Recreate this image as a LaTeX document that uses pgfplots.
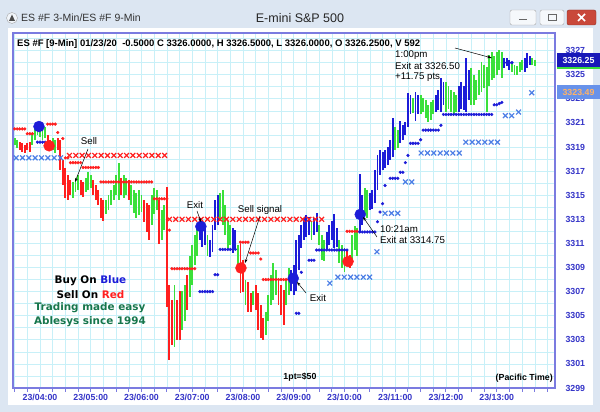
\documentclass[border=0pt]{standalone}
\usepackage{pgfplots}
\pgfplotsset{compat=1.18}
\usepackage{pgfplotstable}
\usepackage{fontspec}
\setmainfont{Liberation Sans}
\newfontfamily\dejavu{DejaVu Sans}
\usetikzlibrary{arrows.meta}

\definecolor{chrome}{HTML}{DCE6F2}
\definecolor{frameblue}{HTML}{7B7BE0}
\definecolor{gridcyan}{HTML}{C8F0F8}
\definecolor{ticklab}{HTML}{3535C8}
\definecolor{barred}{HTML}{FF1F1F}
\definecolor{bargreen}{HTML}{3AE03A}
\definecolor{barblue}{HTML}{1C1CD8}
\definecolor{xblue}{HTML}{4D7FE6}
\definecolor{closered}{HTML}{C9483A}
\definecolor{txtgreen}{HTML}{16764C}

% 3-min bars: time (hours, Pacific), low, high
\pgfplotstableread{
t lo hi
3.60 3318.75 3319.4
3.65 3318.6 3319.3
3.70 3318.5 3319.2
3.75 3318.75 3319.3
3.80 3318.6 3319.4
4.15 3318.9 3320.0
4.20 3318.75 3319.6
4.35 3318.75 3319.75
4.40 3317.1 3319.6
4.45 3315.85 3317.9
4.50 3314.8 3317.3
4.55 3314.6 3316.7
4.60 3315.0 3316.3
4.80 3315.0 3316.3
4.85 3314.85 3316.1
5.05 3315.0 3316.3
5.10 3314.6 3315.85
5.15 3314.2 3315.4
5.20 3313.1 3314.8
5.25 3312.9 3314.6
5.60 3315.0 3316.4
5.75 3314.6 3316.3
6.05 3312.8 3314.6
6.10 3311.95 3314.35
6.15 3311.3 3314.2
6.35 3311.0 3314.6
6.50 3305.7 3315.7
6.55 3301.3 3307.55
6.60 3302.6 3306.3
6.70 3303.0 3306.3
6.75 3303.0 3307.1
6.90 3305.5 3308.4
7.95 3306.9 3311.0
8.00 3307.0 3309.6
8.10 3305.3 3307.8
8.15 3305.3 3306.9
8.25 3305.5 3307.55
8.30 3303.8 3306.9
8.35 3303.15 3305.9
8.40 3303.0 3304.8
8.70 3305.9 3308.0
8.75 3305.1 3307.55
8.80 3304.2 3307.1
10.05 3309.1 3310.45
10.10 3308.96 3310.0
}\redbars

\pgfplotstableread{
t lo hi
7.15 3311.3 3313.1
7.20 3310.7 3312.9
7.25 3310.9 3312.5
7.35 3309.9 3311.3
7.40 3310.3 3312.5
7.45 3312.1 3314.6
7.50 3312.5 3315.0
7.80 3310.2 3312.3
7.85 3310.45 3312.1
8.95 3307.1 3308.8
9.00 3306.7 3309.2
9.05 3307.1 3311.3
9.10 3308.8 3311.7
9.15 3310.6 3312.5
9.20 3311.3 3313.1
9.25 3311.5 3313.4
9.30 3311.7 3313.2
9.40 3311.7 3313.1
9.45 3311.95 3313.5
9.65 3310.45 3311.95
9.70 3310.9 3312.5
9.75 3311.3 3312.9
9.80 3310.6 3313.4
9.85 3310.7 3312.3
10.30 3311.9 3316.8
10.35 3312.5 3315.0
10.50 3313.8 3315.2
10.55 3313.9 3315.4
10.60 3314.35 3317.1
10.65 3315.4 3318.3
10.70 3316.7 3318.75
10.75 3317.1 3318.6
10.80 3317.3 3318.75
10.85 3317.5 3319.0
10.90 3317.9 3319.6
10.95 3318.2 3321.4
11.10 3319.3 3321.2
11.15 3319.6 3320.8
11.20 3320.0 3321.1
11.25 3320.7 3323.5
11.30 3321.7 3323.3
11.40 3321.2 3323.6
11.45 3321.7 3323.3
11.80 3321.9 3323.3
11.85 3322.1 3323.7
11.90 3321.9 3324.7
11.95 3322.5 3324.4
12.25 3321.9 3324.1
12.30 3322.2 3324.4
12.35 3322.1 3324.1
12.40 3321.9 3326.4
12.45 3322.9 3325.4
13.15 3325.6 3326.4
13.20 3325.7 3326.4
13.25 3325.4 3326.2
13.55 3325.2 3326.4
13.60 3325.6 3326.8
13.65 3325.8 3326.6
}\bluebars

\pgfplotstableread{
t lo hi
3.50 3319.2 3319.75
3.55 3318.9 3319.6
3.85 3319.2 3320.2
3.90 3319.6 3320.6
3.95 3320.0 3320.8
4.00 3319.8 3320.7
4.05 3319.6 3320.4
4.10 3319.75 3320.7
4.25 3318.75 3319.75
4.30 3318.5 3319.6
4.65 3314.8 3316.1
4.70 3315.3 3316.4
4.75 3315.4 3316.7
4.90 3315.3 3316.4
4.95 3315.4 3316.9
5.00 3315.6 3316.7
5.30 3313.4 3314.6
5.35 3313.8 3315.0
5.40 3314.2 3315.4
5.45 3314.6 3315.85
5.50 3315.0 3316.7
5.55 3314.6 3317.7
5.65 3314.8 3316.7
5.70 3315.0 3316.4
5.80 3314.2 3315.85
5.85 3313.5 3315.4
5.90 3313.1 3315.2
5.95 3313.4 3315.4
6.00 3313.6 3315.0
6.20 3312.5 3315.0
6.25 3313.4 3315.6
6.30 3313.8 3315.4
6.40 3311.3 3313.8
6.45 3312.1 3314.2
6.65 3302.4 3307.55
6.80 3303.8 3307.1
6.85 3304.6 3307.55
6.95 3306.55 3310.0
7.00 3307.55 3310.9
7.05 3309.2 3311.7
7.10 3310.0 3312.3
7.30 3310.0 3311.7
7.55 3312.9 3315.2
7.60 3312.5 3315.4
7.65 3311.7 3314.2
7.70 3310.45 3312.9
7.75 3310.9 3312.5
7.90 3308.6 3310.9
8.05 3305.9 3308.0
8.20 3305.9 3307.1
8.45 3303.4 3305.3
8.50 3304.6 3306.7
8.55 3305.9 3308.4
8.60 3306.3 3309.4
8.65 3306.7 3308.8
8.85 3305.9 3308.0
8.90 3306.7 3308.96
9.35 3311.3 3312.9
9.50 3310.9 3312.5
9.55 3309.6 3311.7
9.60 3309.5 3311.3
9.90 3309.4 3311.3
9.95 3308.96 3310.9
10.00 3308.6 3310.6
10.15 3309.5 3311.7
10.20 3310.45 3312.5
10.25 3310.0 3312.3
10.40 3313.4 3315.6
10.45 3313.1 3315.4
11.00 3318.75 3320.7
11.05 3318.9 3320.4
11.35 3321.8 3323.1
11.50 3321.7 3323.3
11.55 3321.9 3323.1
11.60 3321.4 3322.9
11.65 3321.1 3322.5
11.70 3321.2 3322.7
11.75 3321.7 3322.9
12.00 3321.9 3324.4
12.05 3322.2 3324.1
12.10 3321.9 3323.7
12.15 3321.7 3323.6
12.20 3321.9 3323.3
12.50 3322.5 3325.6
12.55 3322.5 3325.0
12.60 3322.9 3324.6
12.65 3323.3 3325.4
12.70 3323.6 3326.05
12.75 3323.9 3325.8
12.80 3321.9 3325.6
12.85 3324.1 3326.6
12.90 3324.6 3326.9
12.95 3324.7 3326.6
13.00 3325.0 3326.9
13.05 3325.4 3327.05
13.10 3324.7 3326.9
13.30 3325.2 3326.0
13.35 3325.0 3325.8
13.40 3325.0 3325.7
13.45 3325.2 3326.05
13.50 3325.4 3326.2
13.70 3325.8 3326.4
13.75 3325.7 3326.2
}\greenbars

% stop dots
\pgfplotstableread{
t p
3.50 3320.5
3.55 3320.5
3.60 3320.5
3.65 3320.5
3.70 3320.5
3.75 3320.1
3.80 3320.1
3.85 3320.1
4.15 3320.9
4.20 3320.9
4.25 3320.9
4.30 3320.9
4.35 3320.2
4.45 3319.7
4.50 3318.1
4.55 3318.1
4.60 3317.7
4.65 3317.7
4.70 3317.7
4.75 3317.7
4.80 3317.7
4.85 3317.3
4.90 3317.3
4.95 3317.3
5.00 3317.3
5.05 3317.3
5.10 3317.3
5.15 3317.3
5.20 3316.1
5.25 3316.1
5.30 3316.1
5.35 3316.1
5.40 3316.1
5.45 3316.1
5.50 3316.1
5.55 3316.1
5.60 3316.1
5.65 3316.1
5.70 3316.1
5.75 3316.1
5.80 3316.1
5.85 3316.1
5.90 3316.1
5.95 3316.1
6.00 3316.1
6.05 3316.1
6.10 3316.1
6.15 3316.1
6.20 3316.1
6.25 3314.7
6.30 3314.7
6.35 3314.7
6.40 3314.7
6.45 3314.7
6.50 3314.7
6.55 3312.1
6.60 3308.9
6.65 3308.9
6.70 3308.9
6.75 3308.9
6.80 3308.9
6.85 3308.9
6.90 3308.9
6.95 3308.9
7.00 3308.9
7.05 3308.9
7.95 3311.1
8.00 3311.1
8.05 3311.1
8.10 3311.1
8.15 3310.2
8.20 3310.2
8.25 3310.2
8.30 3310.2
8.35 3309.7
8.40 3308.0
8.45 3308.0
8.50 3308.0
8.55 3308.0
8.60 3308.0
8.65 3308.0
8.70 3308.0
8.75 3308.0
8.80 3308.0
8.85 3308.0
8.90 3308.0
8.95 3308.0
9.00 3308.0
10.05 3312.0
10.10 3312.0
10.15 3312.0
10.20 3312.0
10.25 3312.0
}\reddots

\pgfplotstableread{
t p
3.95 3319.4
4.00 3319.4
4.05 3319.4
4.10 3319.4
7.15 3307.0
7.20 3307.0
7.25 3307.0
7.30 3307.0
7.35 3307.0
7.40 3307.0
7.45 3308.4
7.50 3308.4
7.55 3310.5
7.60 3310.5
7.65 3310.5
7.70 3310.5
7.75 3310.5
7.80 3310.5
7.85 3310.5
9.05 3305.2
9.10 3305.2
9.15 3308.6
9.30 3309.6
9.35 3309.6
9.40 3309.6
9.45 3310.45
9.50 3310.45
9.55 3310.45
9.60 3310.45
9.65 3310.45
9.70 3310.45
9.75 3310.45
9.80 3310.45
9.85 3310.45
9.90 3310.45
9.95 3310.45
10.00 3310.45
10.05 3310.45
10.30 3311.95
10.35 3311.95
10.40 3311.95
10.45 3311.95
10.50 3311.95
10.55 3311.95
10.60 3311.95
10.65 3312.8
10.70 3313.6
10.75 3314.3
10.80 3315.8
10.90 3316.4
10.95 3316.4
11.00 3316.4
11.05 3316.4
11.10 3316.9
11.15 3316.9
11.20 3317.7
11.25 3318.3
11.30 3319.3
11.35 3319.3
11.40 3319.3
11.45 3319.3
11.50 3319.6
11.55 3320.4
11.60 3320.4
11.65 3320.4
11.70 3320.4
11.75 3320.4
11.80 3320.4
11.85 3320.4
11.90 3320.8
11.95 3321.7
12.00 3321.7
12.05 3321.7
12.10 3321.7
12.15 3321.7
12.20 3321.7
12.25 3321.7
12.30 3321.7
12.35 3321.7
12.40 3321.7
12.45 3321.7
12.50 3321.7
12.55 3321.7
12.60 3321.7
12.65 3321.7
12.70 3321.7
12.75 3321.7
12.80 3321.7
12.85 3321.7
12.90 3321.7
12.95 3322.5
13.00 3322.5
13.05 3322.6
13.10 3322.7
13.15 3326.0
13.20 3326.0
13.25 3326.0
13.30 3326.0
}\bluedots

% stop crosses
\pgfplotstableread{
t p
4.58 3318.3
4.705 3318.3
4.83 3318.3
4.955 3318.3
5.08 3318.3
5.205 3318.3
5.33 3318.3
5.455 3318.3
5.58 3318.3
5.705 3318.3
5.83 3318.3
5.955 3318.3
6.08 3318.3
6.205 3318.3
6.33 3318.3
6.455 3318.3
6.55 3313.0
6.675 3313.0
6.80 3313.0
6.925 3313.0
7.05 3313.0
7.175 3313.0
7.30 3313.0
7.425 3313.0
7.55 3313.0
7.675 3313.0
7.80 3313.0
7.925 3313.0
8.05 3313.0
8.175 3313.0
8.30 3313.0
8.425 3313.0
8.55 3313.0
8.675 3313.0
8.80 3313.0
8.925 3313.0
9.05 3313.0
9.175 3313.0
9.30 3313.0
9.425 3313.0
9.55 3313.0
}\redx

\pgfplotstableread{
t p
3.53 3318.1
3.655 3318.1
3.78 3318.1
3.905 3318.1
4.03 3318.1
4.155 3318.1
4.28 3318.1
4.405 3318.1
9.71 3307.7
9.87 3308.2
9.995 3308.2
10.12 3308.2
10.245 3308.2
10.37 3308.2
10.495 3308.2
10.64 3310.3
10.80 3313.5
10.925 3313.5
11.05 3313.5
11.20 3316.1
11.325 3316.1
11.51 3318.5
11.635 3318.5
11.76 3318.5
11.885 3318.5
12.01 3318.5
12.135 3318.5
12.26 3318.5
12.39 3319.4
12.515 3319.4
12.64 3319.4
12.765 3319.4
12.89 3319.4
13.015 3319.4
13.17 3321.6
13.295 3321.6
13.43 3321.9
13.69 3323.5
}\bluex

\begin{document}
\begin{tikzpicture}
\useasboundingbox (0,0) rectangle (600pt,412pt);
\fill[chrome] (0,0) rectangle (600pt,412pt);
\fill[white] (8pt,7pt) rectangle (593pt,384pt);

\begin{axis}[
    at={(13pt,24pt)}, anchor=south west,
    scale only axis, width=542pt, height=355pt,
    xmin=3.468, xmax=14.148,
    ymin=3299, ymax=3328.46,
    axis line style={frameblue, line width=1.3pt},
    grid=major,
    major grid style={gridcyan, line width=0.6pt},
    xtick={3.5,3.75,...,14.0},
    xticklabels={,,23/04:00,,,,23/05:00,,,,23/06:00,,,,23/07:00,,,,23/08:00,,,,23/09:00,,,,23/10:00,,,,23/11:00,,,,23/12:00,,,,23/13:00,,,,},
    ytick={3299,3300,...,3328},
    yticklabels={3299,,3301,,3303,,3305,,3307,,3309,,3311,,3313,,3315,,3317,,3319,,3321,,3323,,3325,,3327,},
    xtick pos=bottom,
    ytick pos=right,
    tick align=outside,
    major tick length=4pt,
    xtick style={frameblue, line width=1pt},
    ytick style={draw=none},
    ticklabel style={font=\bfseries\fontsize{8.8}{10}\selectfont, text=ticklab},
    yticklabel style={xshift=3pt},
    xticklabel style={yshift=1pt},
]

\addplot[draw=none, mark=none, forget plot,
    error bars/.cd, y dir=both, y explicit, error mark=none,
    error bar style={draw=barred, line width=1.9pt}]
    table[x=t, y expr=(\thisrow{lo}+\thisrow{hi})/2, y error expr=(\thisrow{hi}-\thisrow{lo})/2] {\redbars};
\addplot[draw=none, mark=none, forget plot,
    error bars/.cd, y dir=both, y explicit, error mark=none,
    error bar style={draw=bargreen, line width=1.9pt}]
    table[x=t, y expr=(\thisrow{lo}+\thisrow{hi})/2, y error expr=(\thisrow{hi}-\thisrow{lo})/2] {\greenbars};
\addplot[draw=none, mark=none, forget plot,
    error bars/.cd, y dir=both, y explicit, error mark=none,
    error bar style={draw=barblue, line width=1.9pt}]
    table[x=t, y expr=(\thisrow{lo}+\thisrow{hi})/2, y error expr=(\thisrow{hi}-\thisrow{lo})/2] {\bluebars};

\addplot[only marks, mark=x, mark size=3.4pt, color=barred, mark options={line width=1.2pt}] table[x=t, y=p] {\redx};
\addplot[only marks, mark=x, mark size=3.4pt, color=xblue, mark options={line width=1.2pt}] table[x=t, y=p] {\bluex};
\addplot[only marks, mark=*, mark size=1.4pt, color=barred] table[x=t, y=p] {\reddots};
\addplot[only marks, mark=*, mark size=1.4pt, color=barblue] table[x=t, y=p] {\bluedots};

% entry / exit signals
\addplot[only marks, mark=*, mark size=5.5pt, color=barblue] coordinates {(3.98,3320.7) (7.17,3312.4) (8.99,3308.1) (10.31,3313.4)};
\addplot[only marks, mark=*, mark size=5.5pt, color=barred] coordinates {(4.18,3319.1) (7.96,3308.96) (10.07,3309.5)};
\end{axis}

\begin{scope}[shift={(0pt,412pt)}, x=1pt, y=-1pt]
  % title bar
  \fill[white!60!chrome, draw=gray!70] (12,18) circle (5.5);
  \fill[black!70] (12,14.5) -- (15,21) -- (9,21) -- cycle;
  \node[anchor=west, font=\fontsize{10.5}{12}\selectfont, text=black!80, inner sep=0] at (21,18) {ES \#F 3-Min/ES \#F 9-Min};
  \node[font=\fontsize{12.5}{14}\selectfont, text=black!85] at (300,18) {E-mini S\&P 500};
  \fill[white!70!chrome, draw=gray!70, rounded corners=2pt] (510,10) rectangle (536,25);
  \draw[gray!80!black, line width=1.5pt] (519,19.5) -- (527,19.5);
  \fill[white!70!chrome, draw=gray!70, rounded corners=2pt] (540,10) rectangle (564,25);
  \draw[gray!80!black, line width=1pt] (548,14.5) rectangle (556,20.5);
  \fill[closered, draw=closered!70!black, rounded corners=2pt] (567,10) rectangle (596,25);
  \draw[white, line width=1.6pt] (578,14) -- (585,21) (585,14) -- (578,21);

  % header
  \node[anchor=west, inner sep=0, font=\bfseries\fontsize{9.5}{11}\selectfont] at (17,44) {ES \#F [9-Min] 01/23/20\ \ -0.5000 C 3326.0000, H 3326.5000, L 3326.0000, O 3326.2500, V 592};

  % price boxes
  \fill[barblue!85!black] (557,53) rectangle (600,67);
  \fill[bargreen] (557,67) rectangle (600,69.5);
  \node[font=\bfseries\fontsize{8.8}{10}\selectfont, text=white, inner sep=0] at (578.5,60.5) {3326.25};
  \fill[xblue!85!white] (557,85) rectangle (600,99);
  \node[font=\bfseries\fontsize{8.8}{10}\selectfont, text=orange!60!white, inner sep=0] at (578.5,92) {3323.49};

  % annotations
  \begin{scope}[font=\fontsize{9.7}{11}\selectfont, inner sep=0]
    \node at (89,141) {Sell};
    \draw[-{Stealth[length=4pt,width=3pt]}, line width=0.5pt] (88,149) -- (75,182);
    \node at (195,205) {Exit};
    \draw[-{Stealth[length=4pt,width=3pt]}, line width=0.5pt] (197,211) -- (201,222);
    \node at (260,210) {Sell signal};
    \draw[-{Stealth[length=4pt,width=3pt]}, line width=0.5pt] (260,216) -- (245,263);
    \node at (318,298) {Exit};
    \draw[-{Stealth[length=4pt,width=3pt]}, line width=0.5pt] (306,293) -- (297,282);
    \node[anchor=west] at (380,229) {10:21am};
    \node[anchor=west] at (380,240) {Exit at 3314.75};
    \draw[-{Stealth[length=4pt,width=3pt]}, line width=0.5pt] (377,237) -- (363,217);
    \node[anchor=west] at (395,55) {1:00pm};
    \node[anchor=west] at (395,66) {Exit at 3326.50};
    \node[anchor=west] at (395,77) {+11.75 pts};
    \draw[-{Stealth[length=5pt,width=3pt]}, line width=0.5pt] (455,48) -- (492,58);
  \end{scope}

  \begin{scope}[font=\dejavu\bfseries\fontsize{10.4}{12}\selectfont, inner sep=0]
    \node at (90.5,281) {Buy On \textcolor{barblue}{Blue}};
    \node at (90.5,294.5) {Sell On \textcolor{barred}{Red}};
    \node[text=txtgreen] at (90,308) {Trading made easy};
    \node[text=txtgreen] at (90,321.5) {Ablesys since 1994};
  \end{scope}
  \node[font=\bfseries\fontsize{8.8}{10}\selectfont, inner sep=0] at (300,377) {1pt=\$50};
  \node[anchor=east, font=\bfseries\fontsize{8.8}{10}\selectfont, inner sep=0] at (553,378) {(Pacific Time)};
\end{scope}
\end{tikzpicture}
\end{document}
